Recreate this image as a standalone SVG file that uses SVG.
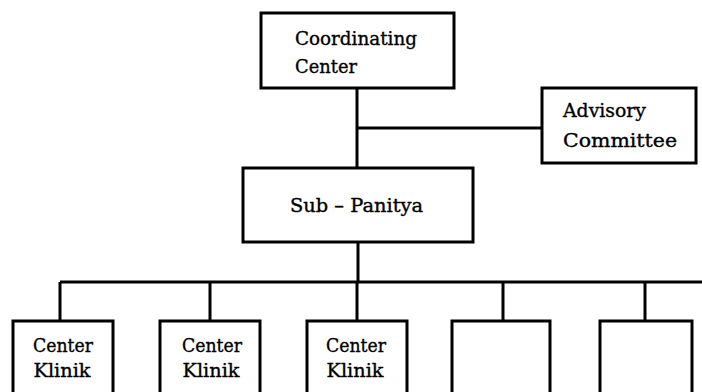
<svg xmlns="http://www.w3.org/2000/svg" width="702" height="392" viewBox="0 0 702 392">
<style>
.box{fill:#fff;stroke:#000;stroke-width:3}
.ln{fill:none;stroke:#000;stroke-width:3}
text{font-family:"DejaVu Serif","Liberation Serif",serif;font-size:19px;fill:#000;stroke:#000;stroke-width:0.35}
.m{text-anchor:middle}
</style>
<rect width="702" height="392" fill="#fff"/>
<g id="connectors">
<path class="ln" d="M357 88V168M357 128H542M358 242V282M60 282H702M60 282V321M210 282V321M357 282V321M503 282V321M645 282V321"/>
</g>
<g id="coordinating">
<rect class="box" x="261" y="13" width="193" height="75"/>
<text x="295" y="45" textLength="122" lengthAdjust="spacingAndGlyphs">Coordinating</text>
<text x="295" y="73" textLength="62" lengthAdjust="spacingAndGlyphs">Center</text>
</g>
<g id="advisory">
<rect class="box" x="542" y="88" width="154" height="75"/>
<text x="563" y="117" textLength="83" lengthAdjust="spacingAndGlyphs">Advisory</text>
<text x="563" y="147" textLength="114" lengthAdjust="spacingAndGlyphs">Committee</text>
</g>
<g id="subpanitya">
<rect class="box" x="243" y="168" width="230" height="74"/>
<text x="290" y="212" textLength="133" lengthAdjust="spacingAndGlyphs">Sub – Panitya</text>
</g>
<g id="klinik1">
<rect class="box" x="13" y="321" width="100" height="80"/>
<text class="m" x="63" y="352" textLength="60" lengthAdjust="spacingAndGlyphs">Center</text>
<text class="m" x="62" y="377" textLength="57" lengthAdjust="spacingAndGlyphs">Klinik</text>
</g>
<g id="klinik2">
<rect class="box" x="160" y="321" width="100" height="80"/>
<text class="m" x="212" y="352" textLength="60" lengthAdjust="spacingAndGlyphs">Center</text>
<text class="m" x="211" y="377" textLength="57" lengthAdjust="spacingAndGlyphs">Klinik</text>
</g>
<g id="klinik3">
<rect class="box" x="307" y="321" width="100" height="80"/>
<text class="m" x="356" y="352" textLength="60" lengthAdjust="spacingAndGlyphs">Center</text>
<text class="m" x="355" y="377" textLength="57" lengthAdjust="spacingAndGlyphs">Klinik</text>
</g>
<g id="box4">
<rect class="box" x="452" y="321" width="98" height="80"/>
</g>
<g id="box5">
<rect class="box" x="600" y="321" width="92" height="80"/>
</g>
</svg>
